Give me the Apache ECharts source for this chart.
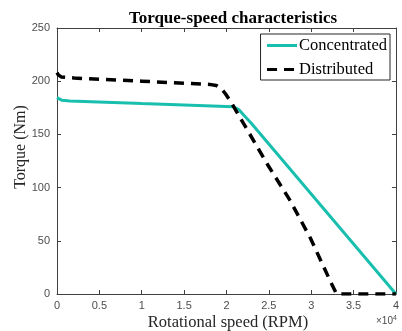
<!DOCTYPE html>
<html><head><meta charset="utf-8">
<script src="https://cdn.jsdelivr.net/npm/echarts@6/dist/echarts.min.js"></script>
<style>html,body{margin:0;padding:0;background:#fff}#c{width:402px;height:331px}</style>
</head><body><div id="c"></div>
<script>
const titleText = 'Torque-speed characteristics';
const xLabel = 'Rotational speed (RPM)';
const yLabel = 'Torque (Nm)';
const seriesNames = ['Concentrated', 'Distributed'];
const concentratedSpeed = [0, 200, 600, 1500, 10000, 20800, 21500, 22000, 22900, 40000];
const concentratedTorque = [184.5, 183, 182, 181.5, 179, 176, 173, 168.5, 160.7, 0];
const distributedSpeed = [0, 150, 500, 2000, 10000, 18000, 18800, 19400, 19900, 20600, 24900, 27500, 29900, 32300, 33000, 40000];
const distributedTorque = [208, 206, 204, 203, 200, 197, 196, 193, 188, 179.5, 121, 88, 52.6, 11.3, 0, 0];
const xTicks = [0, 5000, 10000, 15000, 20000, 25000, 30000, 35000, 40000];
const yTicks = [0, 50, 100, 150, 200, 250];

const chart = echarts.init(document.getElementById('c'));
const serif = 'Liberation Serif';
const sans = 'Liberation Sans';
const axisCol = '#404040';
const labCol = '#4d4d4d';
function pairs(xs, ys){ return xs.map((x,i)=>[x, ys[i]]); }
function baseX(){ return {type:'value', min:xTicks[0], max:xTicks[xTicks.length-1], interval:xTicks[1]-xTicks[0],
  axisLine:{show:true,onZero:false,lineStyle:{color:axisCol,width:1}}, axisTick:{show:true,inside:true,length:4,lineStyle:{color:axisCol}},
  splitLine:{show:false}}; }
function baseY(){ return {type:'value', min:yTicks[0], max:yTicks[yTicks.length-1], interval:yTicks[1]-yTicks[0],
  axisLine:{show:true,onZero:false,lineStyle:{color:axisCol,width:1}}, axisTick:{show:true,inside:true,length:4,lineStyle:{color:axisCol}},
  splitLine:{show:false}}; }
chart.setOption({
  animation:false,
  title:{text:titleText,left:228,top:5,textAlign:'center',textStyle:{fontFamily:serif,fontWeight:'bold',fontSize:17,color:'#000'}},
  grid:{left:57,right:3,top:28,bottom:37},
  legend:{orient:'vertical',right:12,top:34,itemWidth:30,itemHeight:14,itemGap:7,
    backgroundColor:'#fff',borderColor:'#262626',borderWidth:1,borderRadius:0,padding:[3,3,2,5],
    itemStyle:{opacity:0},
    lineStyle:{width:3},
    textStyle:{fontFamily:serif,fontSize:16.5,color:'#000',padding:[0,0,0,-3]},
    data:seriesNames},
  xAxis:[Object.assign(baseX(), {position:'bottom', axisLabel:{color:labCol,fontFamily:sans,fontSize:11,margin:6,
      formatter:v=>String(v/10000)}}),
    Object.assign(baseX(), {position:'top', axisLabel:{show:false}})],
  yAxis:[Object.assign(baseY(), {position:'left', axisLabel:{color:labCol,fontFamily:sans,fontSize:11,margin:7}}),
    Object.assign(baseY(), {position:'right', axisLabel:{show:false}})],
  graphic:[
    {type:'text',x:228,y:314,style:{text:xLabel,textAlign:'center',font:'16.5px "Liberation Serif"',fill:'#262626'}},
    {type:'text',rotation:Math.PI/2,x:21,y:147,style:{text:yLabel,textAlign:'center',textVerticalAlign:'middle',font:'16px "Liberation Serif"',fill:'#262626'}},
    {type:'text',x:376,y:315,style:{rich:{a:{fontFamily:sans,fontSize:10,fill:labCol},b:{fontFamily:sans,fontSize:7,fill:labCol,verticalAlign:'top',padding:[0,0,6,0]}},text:'{a|×10}{b|4}'}}
  ],
  series:[
    {name:seriesNames[0],type:'line',data:pairs(concentratedSpeed,concentratedTorque),symbol:'none',
      lineStyle:{color:'#19bfae',width:3},itemStyle:{color:'#19bfae'}},
    {name:seriesNames[1],type:'line',data:pairs(distributedSpeed,distributedTorque),symbol:'none',
      lineStyle:{color:'#000',width:3.5,type:[10,7]},itemStyle:{color:'#000'}},
    {type:'line',xAxisIndex:1,yAxisIndex:1,data:[],silent:true}
  ]
});
</script></body></html>
